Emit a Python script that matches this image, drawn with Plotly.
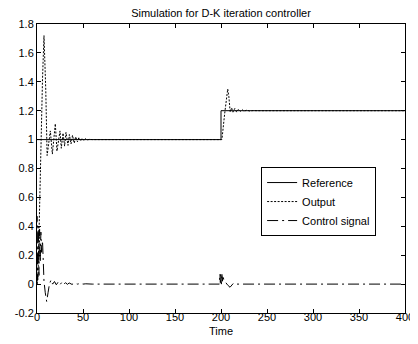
import plotly.graph_objects as go

# Reference signal
t_ref = [0, 200, 200, 400]
y_ref = [1.0, 1.0, 1.2, 1.2]

# Output signal
t_out = [0, 1, 2, 3, 4, 5, 6, 7.6, 9.5, 11, 12.8, 14.5, 16.7, 18.3, 19.9, 21.7, 23.3, 25,
         26.4, 28.3, 30, 31.5, 33.7, 35.2, 37, 38.6, 40.5, 42, 44, 45.5, 47.5, 49, 51, 52.5,
         54.5, 57, 60, 200, 201, 204, 207.3, 208.5, 210, 211.5, 213, 215, 217, 219, 221,
         223, 225, 228, 231, 235, 240, 400]
y_out = [0, 0.04, 0.3, 0.6, 0.92, 1.18, 1.42, 1.72, 1.35, 0.89, 0.99, 1.06, 0.90, 1.0, 1.11,
         0.92, 1.0, 1.06, 0.94, 1.045, 0.955, 1.05, 0.96, 1.035, 0.97, 1.03, 0.975, 1.02, 0.985,
         1.015, 0.99, 1.01, 0.993, 1.006, 0.997, 1.002, 1.0, 1.0, 1.0, 1.18, 1.35, 1.3, 1.19,
         1.22, 1.19, 1.215, 1.19, 1.21, 1.195, 1.207, 1.196, 1.204, 1.198, 1.201, 1.2, 1.2]

# Control signal
t_u = [0, 0, 0.7, 1.4, 2.1, 2.8, 3.5, 4.2, 5, 6, 7.6, 9, 10.5, 12, 13.5, 15.2, 17, 19, 21,
       23, 25, 27, 29, 31, 33, 35, 38, 41, 44, 47, 50, 53, 56, 60,
       198.2, 198.8, 199.3, 199.8, 200.4, 201, 201.6, 202.2, 203, 205, 207, 209.8, 211.5,
       213.4, 216, 220, 400]
y_u = [0, 0.47, 0.03, 0.40, 0.06, 0.38, 0.15, 0.36, 0.22, 0.3, 0.02, -0.06, -0.12, -0.06,
       0.0, 0.028, 0.0, 0.018, -0.005, 0.014, -0.004, 0.012, -0.003, 0.01, -0.002, 0.008,
       -0.002, 0.006, 0.0, 0.004, 0.0, 0.002, 0.0, 0.0,
       0.0, 0.07, 0.01, 0.08, 0.0, 0.075, 0.02, 0.06, 0.03, 0.01, -0.005, -0.022, -0.01,
       0.005, 0.0, 0.0, 0.0]

x_ticks = [0, 50, 100, 150, 200, 250, 300, 350, 400]
y_ticks = [-0.2, 0, 0.2, 0.4, 0.6, 0.8, 1, 1.2, 1.4, 1.6, 1.8]
y_tick_labels = ["-0.2", "0", "0.2", "0.4", "0.6", "0.8", "1", "1.2", "1.4", "1.6", "1.8"]

FONT = "Liberation Sans, Arial, sans-serif"
W, H = 410, 336  # page body adds an 8px offset

fig = go.Figure()
fig.add_trace(go.Scatter(x=t_ref, y=y_ref, mode="lines", name="Reference",
                         line=dict(color="black", width=1)))
fig.add_trace(go.Scatter(x=t_out, y=y_out, mode="lines", name="Output",
                         line=dict(color="black", width=1, dash="2px,1.5px")))
fig.add_trace(go.Scatter(x=t_u, y=y_u, mode="lines", name="Control signal",
                         line=dict(color="black", width=1, dash="11px,4px,2px,4px")))

axis_common = dict(showline=True, linecolor="black", linewidth=1, mirror="ticks",
                   ticks="inside", ticklen=4, tickcolor="black", showgrid=False,
                   zeroline=False, automargin=False,
                   tickfont=dict(size=11, color="black", family=FONT))

fig.update_layout(
    width=W, height=H,
    margin=dict(l=29, r=13, t=16, b=31, autoexpand=False),
    paper_bgcolor="white", plot_bgcolor="white",
    font=dict(family=FONT, size=11, color="black"),
    title=dict(text="Simulation for D-K iteration controller", x=0.5, xref="paper",
               xanchor="center", y=1 - 5 / H, yanchor="middle",
               font=dict(size=11, color="black", family=FONT)),
    xaxis=dict(range=[0, 400], tickvals=x_ticks, ticktext=[str(v) for v in x_ticks],
               ticklabelstandoff=-6, **axis_common),
    yaxis=dict(range=[-0.2, 1.8], tickvals=y_ticks, ticktext=y_tick_labels, **axis_common),
    legend=dict(x=0.609, y=0.505, xanchor="left", yanchor="top", bgcolor="white",
                bordercolor="black", borderwidth=1, font=dict(size=11, color="black"),
                tracegroupgap=0),
    showlegend=True,
    annotations=[dict(text="Time", xref="paper", yref="paper", x=0.5, y=-18 / 289,
                      xanchor="center", yanchor="middle", showarrow=False,
                      font=dict(size=11, color="black", family=FONT))],
)

fig.write_html("out.html")
